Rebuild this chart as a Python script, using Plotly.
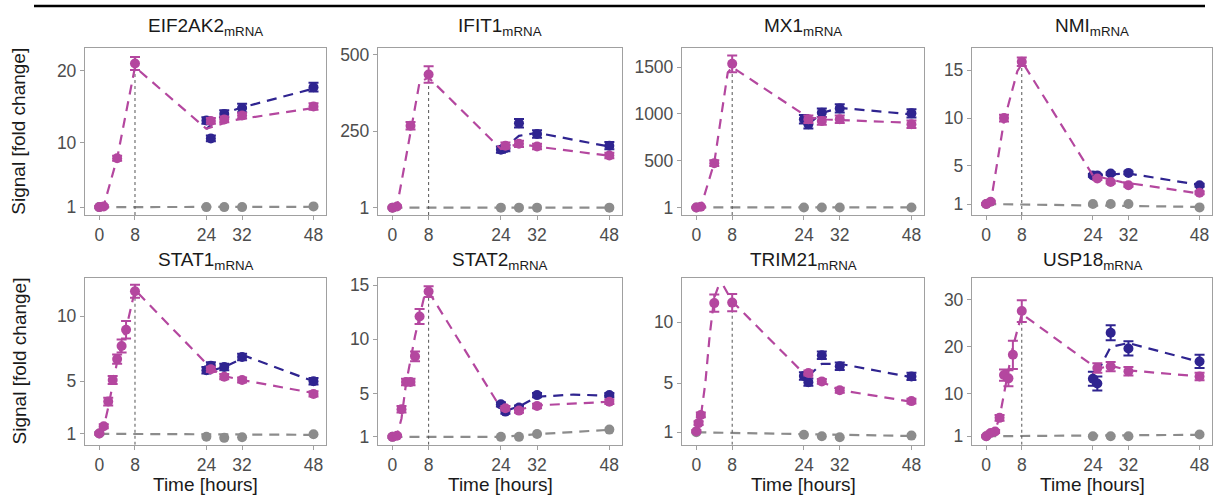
import plotly.graph_objects as go

# ---------------- data ----------------
genes = ["EIF2AK2", "IFIT1", "MX1", "NMI", "STAT1", "STAT2", "TRIM21", "USP18"]

x_ticks = [0, 8, 24, 32, 48]
navy_t = [24, 25, 28, 32, 48]
grey_t = [0, 24, 28, 32, 48]
peak_t = 8

# EIF2AK2
EIF2AK2_mag_t = [0, 1, 4, 8, 25, 28, 32, 48]
EIF2AK2_mag_v = [1.0, 1.1, 7.8, 21.0, 13.0, 13.2, 13.75, 15.0]
EIF2AK2_mag_e = [0.15, 0.15, 0.35, 0.9, 0.4, 0.4, 0.4, 0.45]
EIF2AK2_nav_v = [13.06, 10.56, 13.98, 14.8, 17.7]
EIF2AK2_nav_e = [0.45, 0.4, 0.5, 0.6, 0.6]
EIF2AK2_gry_v = [1.0, 1.0, 1.0, 1.0, 1.1]
EIF2AK2_fit_mag_t = [0, 1, 4, 8, 24, 30, 48]
EIF2AK2_fit_mag_v = [1, 1.2, 7.8, 20.5, 11.9, 13.1, 14.8]
EIF2AK2_fit_nav_t = [24, 28, 31.5, 48]
EIF2AK2_fit_nav_v = [11.9, 14.0, 14.8, 17.5]
EIF2AK2_fit_gry_t = [0, 48]
EIF2AK2_fit_gry_v = [1.0, 1.05]
EIF2AK2_yticks = [1, 10, 20]
EIF2AK2_yrange = [-0.1, 23.1]

# IFIT1
IFIT1_mag_t = [0, 1, 4, 8, 25, 28, 32, 48]
IFIT1_mag_v = [1, 5, 268, 435, 203, 209, 200, 171]
IFIT1_mag_e = [3, 3, 12, 27, 10, 10, 9, 9]
IFIT1_nav_v = [190, 195, 276, 241, 203]
IFIT1_nav_e = [10, 10, 14, 12, 12]
IFIT1_gry_v = [1, 1, 1, 1, 1]
IFIT1_fit_mag_t = [0, 1, 3, 6, 8, 24, 28, 32, 48]
IFIT1_fit_mag_v = [1, 5, 165, 410, 425, 192, 209, 200, 170]
IFIT1_fit_nav_t = [24, 28, 32, 48]
IFIT1_fit_nav_v = [186, 235, 245, 200]
IFIT1_fit_gry_t = [0, 48]
IFIT1_fit_gry_v = [1, 1]
IFIT1_yticks = [1, 250, 500]
IFIT1_yrange = [-23, 520]

# MX1
MX1_mag_t = [0, 1, 4, 8, 25, 28, 32, 48]
MX1_mag_v = [1, 8, 474, 1535, 943, 925, 943, 890]
MX1_mag_e = [5, 5, 30, 90, 40, 40, 40, 40]
MX1_nav_v = [943, 890, 1013, 1059, 1006]
MX1_nav_e = [45, 45, 45, 45, 45]
MX1_gry_v = [1, 1, 1, 1, 1]
MX1_fit_mag_t = [0, 1, 4, 7, 8, 25, 29, 48]
MX1_fit_mag_v = [1, 5, 480, 1440, 1500, 960, 940, 905]
MX1_fit_nav_t = [25, 28, 32, 48]
MX1_fit_nav_v = [890, 1010, 1065, 995]
MX1_fit_gry_t = [0, 48]
MX1_fit_gry_v = [1, 1]
MX1_yticks = [1, 500, 1000, 1500]
MX1_yrange = [-80, 1700]

# NMI
NMI_mag_t = [0, 1, 4, 8, 25, 28, 32, 48]
NMI_mag_v = [1, 1.24, 10.0, 15.9, 3.67, 3.3, 2.97, 2.18]
NMI_mag_e = [0.1, 0.1, 0.35, 0.45, 0.15, 0.15, 0.15, 0.15]
NMI_nav_v = [4.0, 4.0, 4.19, 4.26, 2.97]
NMI_nav_e = [0.15, 0.15, 0.15, 0.15, 0.15]
NMI_gry_v = [1, 1, 1, 1, 0.65]
NMI_fit_mag_t = [0, 1, 4, 7, 8.2, 24, 30.5, 48]
NMI_fit_mag_v = [1, 1.1, 9.7, 14.9, 15.8, 4.0, 3.3, 2.1]
NMI_fit_nav_t = [24, 28, 32, 48]
NMI_fit_nav_v = [4.0, 4.1, 4.2, 3.0]
NMI_fit_gry_t = [0, 48]
NMI_fit_gry_v = [1.0, 0.7]
NMI_yticks = [1, 5, 10, 15]
NMI_yrange = [-0.15, 17.3]

# STAT1
STAT1_mag_t = [0, 1, 2, 3, 4, 5, 6, 8, 25, 28, 32, 48]
STAT1_mag_v = [1.0, 1.56, 3.45, 5.1, 6.7, 7.7, 8.95, 11.9, 5.92, 5.35, 5.1, 4.03]
STAT1_mag_e = [0.1, 0.15, 0.3, 0.3, 0.35, 0.5, 0.67, 0.5, 0.2, 0.2, 0.2, 0.2]
STAT1_nav_v = [5.85, 6.2, 6.1, 6.86, 5.0]
STAT1_nav_e = [0.25, 0.25, 0.25, 0.25, 0.25]
STAT1_gry_v = [1.0, 0.75, 0.67, 0.72, 0.95]
STAT1_fit_mag_t = [0, 1, 2, 4, 6, 8, 25, 28, 32, 48]
STAT1_fit_mag_v = [1, 1.5, 3, 6.5, 9, 12, 6.0, 5.4, 5.1, 4.1]
STAT1_fit_nav_t = [25, 28, 33, 48]
STAT1_fit_nav_v = [5.8, 6.1, 6.9, 5.0]
STAT1_fit_gry_t = [0, 48]
STAT1_fit_gry_v = [0.98, 0.9]
STAT1_yticks = [1, 5, 10]
STAT1_yrange = [0.14, 12.9]

# STAT2
STAT2_mag_t = [0, 1, 2, 3, 4, 5, 6, 8, 25, 28, 32, 48]
STAT2_mag_v = [1, 1.1, 3.55, 6.06, 6.06, 8.42, 12.1, 14.4, 3.64, 3.42, 3.85, 4.24]
STAT2_mag_e = [0.1, 0.1, 0.3, 0.3, 0.3, 0.45, 0.7, 0.5, 0.2, 0.2, 0.2, 0.2]
STAT2_nav_v = [4.0, 3.33, 3.7, 4.85, 4.85]
STAT2_nav_e = [0.2, 0.2, 0.2, 0.2, 0.2]
STAT2_gry_v = [1, 1, 1, 1.27, 1.67]
STAT2_fit_mag_t = [0, 1, 2, 3, 5, 7, 8, 24, 28, 32, 48]
STAT2_fit_mag_v = [1, 1.1, 2.7, 5.9, 10.3, 13.9, 14.4, 3.64, 3.5, 3.9, 4.24]
STAT2_fit_nav_t = [25, 28, 32, 40, 48]
STAT2_fit_nav_v = [3.4, 3.8, 4.7, 4.9, 4.8]
STAT2_fit_gry_t = [0, 24, 32, 48]
STAT2_fit_gry_v = [1, 1, 1.25, 1.65]
STAT2_yticks = [1, 5, 10, 15]
STAT2_yrange = [0.27, 15.64]

# TRIM21
TRIM21_mag_t = [0, 0.5, 1, 4, 8, 25, 28, 32, 48]
TRIM21_mag_v = [1.08, 1.75, 2.42, 11.56, 11.6, 5.85, 5.16, 4.44, 3.55]
TRIM21_mag_e = [0.1, 0.15, 0.2, 0.7, 0.7, 0.2, 0.2, 0.2, 0.2]
TRIM21_nav_v = [5.6, 5.1, 7.3, 6.4, 5.57]
TRIM21_nav_e = [0.3, 0.3, 0.3, 0.3, 0.3]
TRIM21_gry_v = [1.0, 0.8, 0.68, 0.6, 0.73]
TRIM21_fit_mag_t = [0, 1, 2, 3, 4, 5, 6, 8, 24, 28, 32, 48]
TRIM21_fit_mag_v = [1.1, 2.3, 5, 9, 12, 13, 13, 11.7, 5.8, 5.15, 4.45, 3.5]
TRIM21_fit_nav_t = [25, 28, 32, 48]
TRIM21_fit_nav_v = [5.6, 6.6, 6.6, 5.5]
TRIM21_fit_gry_t = [0, 48]
TRIM21_fit_gry_v = [1.0, 0.7]
TRIM21_yticks = [1, 5, 10]
TRIM21_yrange = [-0.02, 13.6]

# USP18
USP18_mag_t = [0, 1, 2, 3, 4, 5, 6, 8, 25, 28, 32, 48]
USP18_mag_v = [1, 1.7, 2.0, 4.9, 14.0, 13.3, 18.3, 27.6, 15.5, 15.8, 14.8, 13.7]
USP18_mag_e = [0.2, 0.3, 0.3, 0.6, 1.2, 1.7, 3.0, 2.3, 1.0, 1.0, 0.9, 0.8]
USP18_nav_v = [13.2, 12.2, 23.0, 19.66, 16.9]
USP18_nav_e = [1.5, 1.5, 1.6, 1.5, 1.4]
USP18_gry_v = [1, 1, 1, 1, 1.35]
USP18_fit_mag_t = [0, 1, 2, 3, 4, 6, 8, 25, 28, 32, 48]
USP18_fit_mag_v = [1, 1.3, 2.2, 5, 10, 20, 27, 15.3, 16, 15, 13.7]
USP18_fit_nav_t = [25, 28, 32, 48]
USP18_fit_nav_v = [14.5, 20, 20.8, 16.8]
USP18_fit_gry_t = [0, 48]
USP18_fit_gry_v = [1.0, 1.3]
USP18_yticks = [1, 10, 20, 30]
USP18_yrange = [-0.82, 34.6]

g = globals()

# ---------------- styling / layout ----------------
W, H = 1215, 503
MAG = "#B4479F"
NAV = "#2F2490"
GRY = "#8C8C8C"
FRAME = "#A0A0A0"
TICKC = "#4D4D4D"
FONT = "Liberation Sans, Arial, sans-serif"

col_px = [(85, 326), (378, 622), (682, 924), (972, 1212)]
row_px = [(45, 214), (278, 447)]
title_y_px = [23, 261]

fig = go.Figure()
annotations = []
layout_axes = {}

for i, gene in enumerate(genes):
    k = i + 1
    r, c = divmod(i, 4)
    xa = "x" if k == 1 else f"x{k}"
    ya = "y" if k == 1 else f"y{k}"
    yr = g[f"{gene}_yrange"]

    # grey control
    fig.add_trace(go.Scatter(x=g[f"{gene}_fit_gry_t"], y=g[f"{gene}_fit_gry_v"], mode="lines",
                             line=dict(color=GRY, width=2.2, dash="10px,7px"),
                             xaxis=xa, yaxis=ya, showlegend=False, hoverinfo="skip"))
    fig.add_trace(go.Scatter(x=grey_t, y=g[f"{gene}_gry_v"], mode="markers",
                             marker=dict(color=GRY, size=10),
                             xaxis=xa, yaxis=ya, showlegend=False))
    # peak marker line at 8 h
    pk = g[f"{gene}_mag_v"][g[f"{gene}_mag_t"].index(peak_t)]
    fig.add_trace(go.Scatter(x=[peak_t, peak_t], y=[yr[0], pk], mode="lines",
                             line=dict(color="#555555", width=1, dash="3px,3px"),
                             xaxis=xa, yaxis=ya, showlegend=False, hoverinfo="skip"))
    # navy
    fig.add_trace(go.Scatter(x=navy_t, y=g[f"{gene}_nav_v"], mode="markers",
                             marker=dict(color=NAV, size=10),
                             error_y=dict(type="data", array=g[f"{gene}_nav_e"], color=NAV,
                                          thickness=2, width=5),
                             xaxis=xa, yaxis=ya, showlegend=False))
    fig.add_trace(go.Scatter(x=g[f"{gene}_fit_nav_t"], y=g[f"{gene}_fit_nav_v"], mode="lines",
                             line=dict(color=NAV, width=2.2, dash="10px,7px"),
                             xaxis=xa, yaxis=ya, showlegend=False, hoverinfo="skip"))
    # magenta
    fig.add_trace(go.Scatter(x=g[f"{gene}_mag_t"], y=g[f"{gene}_mag_v"], mode="markers",
                             marker=dict(color=MAG, size=10),
                             error_y=dict(type="data", array=g[f"{gene}_mag_e"], color=MAG,
                                          thickness=2, width=5),
                             xaxis=xa, yaxis=ya, showlegend=False))
    fig.add_trace(go.Scatter(x=g[f"{gene}_fit_mag_t"], y=g[f"{gene}_fit_mag_v"], mode="lines",
                             line=dict(color=MAG, width=2.2, dash="10px,7px"),
                             xaxis=xa, yaxis=ya, showlegend=False, hoverinfo="skip"))

    x0, x1 = col_px[c]
    y0, y1 = row_px[r]
    axkw = dict(showline=True, mirror=True, linecolor=FRAME, linewidth=1.3,
                ticks="outside", ticklen=4, tickwidth=1.2, tickcolor=FRAME,
                tickfont=dict(size=17.5, color=TICKC, family=FONT),
                showgrid=False, zeroline=False)
    layout_axes["xaxis" if k == 1 else f"xaxis{k}"] = dict(
        domain=[x0 / W, x1 / W], range=[-3.2, 50.8], tickvals=x_ticks,
        anchor=ya, **axkw)
    layout_axes["yaxis" if k == 1 else f"yaxis{k}"] = dict(
        domain=[1 - y1 / H, 1 - y0 / H], range=yr, tickvals=g[f"{gene}_yticks"],
        anchor=xa, **axkw)

    annotations.append(dict(text=f"{gene}<sub>mRNA</sub>", x=(x0 + x1) / 2 / W,
                            y=1 - title_y_px[r] / H, xref="paper", yref="paper",
                            xanchor="center", yanchor="middle", showarrow=False,
                            font=dict(size=19, color="#1A1A1A", family=FONT)))

for r in range(2):
    y0, y1 = row_px[r]
    annotations.append(dict(text="Signal [fold change]", x=19 / W, y=1 - (y0 + y1) / 2 / H,
                            xref="paper", yref="paper", xanchor="center", yanchor="middle",
                            textangle=-90, showarrow=False,
                            font=dict(size=19, color="#1A1A1A", family=FONT)))
for c in range(4):
    x0, x1 = col_px[c]
    annotations.append(dict(text="Time [hours]", x=(x0 + x1) / 2 / W, y=1 - 487 / H,
                            xref="paper", yref="paper", xanchor="center", yanchor="middle",
                            showarrow=False, font=dict(size=19, color="#1A1A1A", family=FONT)))

fig.update_layout(
    width=W, height=H, margin=dict(l=0, r=0, t=0, b=0),
    paper_bgcolor="white", plot_bgcolor="white",
    font=dict(family=FONT),
    annotations=annotations,
    shapes=[dict(type="line", xref="paper", yref="paper", x0=34 / W, x1=1205 / W,
                 y0=1 - 2 / H, y1=1 - 2 / H, line=dict(color="black", width=2.5))],
    **layout_axes,
)

fig.write_html("out.html")
